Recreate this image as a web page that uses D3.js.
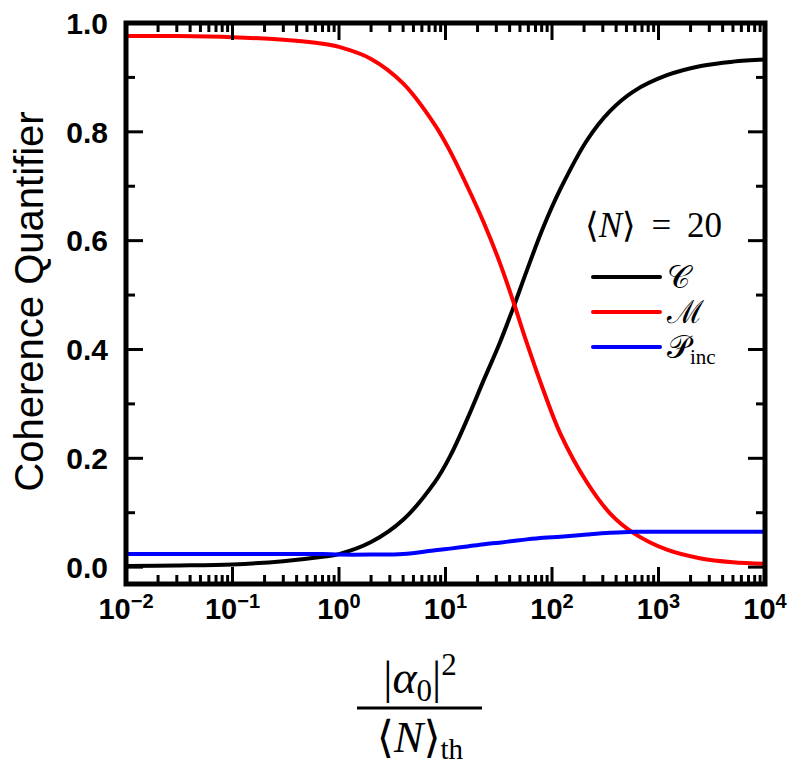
<!DOCTYPE html>
<html>
<head>
<meta charset="utf-8">
<script src="https://cdn.jsdelivr.net/npm/d3@7"></script>
<style>
  body { margin: 0; background: #fff; }
  svg { display: block; }
</style>
</head>
<body>
<div id="chart"></div>
<script>
// |alpha0|^2 / <N>_th  (x values)
const ratio = [0.01, 0.03, 0.1, 0.3, 0.7, 1, 2, 4, 8, 11, 16, 23, 32, 43, 58, 83, 120, 214, 350, 580, 1200, 2500, 5000, 10000];
const coherence = [0.002, 0.003, 0.005, 0.011, 0.019, 0.024, 0.046, 0.087, 0.157, 0.203, 0.272, 0.345, 0.410, 0.475, 0.545, 0.625, 0.695, 0.785, 0.838, 0.874, 0.904, 0.921, 0.929, 0.933];
const mixedness = [0.976, 0.976, 0.974, 0.969, 0.962, 0.956, 0.934, 0.889, 0.812, 0.765, 0.700, 0.632, 0.562, 0.490, 0.412, 0.325, 0.245, 0.155, 0.099, 0.063, 0.032, 0.016, 0.009, 0.006];
const pInc = [0.024, 0.024, 0.024, 0.024, 0.024, 0.023, 0.023, 0.024, 0.031, 0.034, 0.038, 0.042, 0.045, 0.048, 0.051, 0.054, 0.056, 0.060, 0.063, 0.065, 0.065, 0.065, 0.065, 0.065];

const xExponents = [-2, -1, 0, 1, 2, 3, 4];
const yTickValues = [0, 0.2, 0.4, 0.6, 0.8, 1.0];
const yMinorValues = [0.1, 0.3, 0.5, 0.7, 0.9];

const series = [
  { key: "C", values: coherence, color: "#000000" },
  { key: "M", values: mixedness, color: "#ff0000" },
  { key: "P", values: pInc, color: "#0000ff" },
];

const width = 793, height = 768;
const margin = { top: 23, right: 28, bottom: 184, left: 126 };
const innerW = width - margin.left - margin.right;
const innerH = height - margin.top - margin.bottom;

const svg = d3.select("#chart").append("svg")
  .attr("width", width)
  .attr("height", height);

const g = svg.append("g")
  .attr("transform", `translate(${margin.left},${margin.top})`);

const x = d3.scaleLog().domain([1e-2, 1e4]).range([0, innerW]);
const y = d3.scaleLinear().domain([-0.031, 1.0]).range([innerH, 0]);

const sansBold = "'Liberation Sans', Arial, Helvetica, sans-serif";
const serif = "'Liberation Serif', 'DejaVu Serif', 'Times New Roman', serif";

// curves
const line = d3.line()
  .x((d) => x(d[0]))
  .y((d) => y(d[1]))
  .curve(d3.curveCatmullRom.alpha(0.5));

g.append("g").attr("class", "curves")
  .selectAll("path")
  .data(series)
  .join("path")
  .attr("fill", "none")
  .attr("stroke", (d) => d.color)
  .attr("stroke-width", 4)
  .attr("stroke-linejoin", "round")
  .attr("d", (d) => line(ratio.map((r, i) => [r, d.values[i]])));

// minor x ticks 2..9 per decade
const xMinor = [];
xExponents.slice(0, -1).forEach((e) => {
  for (let k = 2; k <= 9; k++) xMinor.push(k * Math.pow(10, e));
});

const ticks = g.append("g").attr("class", "ticks")
  .attr("stroke", "#000").attr("stroke-width", 3);

const majorLen = 17, minorLen = 9;

xExponents.forEach((e) => {
  const px = x(Math.pow(10, e));
  ticks.append("line").attr("x1", px).attr("x2", px).attr("y1", innerH).attr("y2", innerH - majorLen);
  ticks.append("line").attr("x1", px).attr("x2", px).attr("y1", 0).attr("y2", majorLen);
});
xMinor.forEach((v) => {
  const px = x(v);
  ticks.append("line").attr("x1", px).attr("x2", px).attr("y1", innerH).attr("y2", innerH - minorLen);
  ticks.append("line").attr("x1", px).attr("x2", px).attr("y1", 0).attr("y2", minorLen);
});
yTickValues.forEach((v) => {
  const py = y(v);
  ticks.append("line").attr("x1", 0).attr("x2", majorLen).attr("y1", py).attr("y2", py);
  ticks.append("line").attr("x1", innerW).attr("x2", innerW - majorLen).attr("y1", py).attr("y2", py);
});
yMinorValues.forEach((v) => {
  const py = y(v);
  ticks.append("line").attr("x1", 0).attr("x2", minorLen).attr("y1", py).attr("y2", py);
  ticks.append("line").attr("x1", innerW).attr("x2", innerW - minorLen).attr("y1", py).attr("y2", py);
});

// frame
g.append("rect")
  .attr("width", innerW).attr("height", innerH)
  .attr("fill", "none").attr("stroke", "#000").attr("stroke-width", 5);

// y tick labels
g.append("g").selectAll("text")
  .data(yTickValues)
  .join("text")
  .attr("x", -18)
  .attr("y", (d) => y(d))
  .attr("dy", "0.36em")
  .attr("text-anchor", "end")
  .style("font-family", sansBold)
  .style("font-weight", "bold")
  .style("font-size", "30px")
  .text((d) => d.toFixed(1));

// x tick labels: 10^e
const xLab = g.append("g").selectAll("text")
  .data(xExponents)
  .join("text")
  .attr("x", (d) => x(Math.pow(10, d)))
  .attr("y", innerH + 35)
  .attr("text-anchor", "middle")
  .style("font-family", sansBold)
  .style("font-weight", "bold")
  .style("font-size", "29px");
xLab.append("tspan").text("10");
xLab.append("tspan")
  .attr("dy", -11)
  .style("font-size", "20px")
  .text((d) => (d < 0 ? "\u2212" + Math.abs(d) : String(d)));

// y axis title
svg.append("text")
  .attr("transform", `translate(43,${margin.top + innerH / 2 - 2}) rotate(-90)`)
  .attr("text-anchor", "middle")
  .style("font-family", "'Liberation Sans', Arial, sans-serif")
  .style("font-size", "40px")
  .text("Coherence Quantifier");

// x axis title: fraction |alpha0|^2 / <N>_th
const fx = 420;
const num = svg.append("text")
  .attr("x", fx).attr("y", 693)
  .attr("text-anchor", "middle")
  .style("font-family", serif)
  .style("font-size", "46px");
num.append("tspan").text("|");
num.append("tspan").style("font-style", "italic").text("\u03b1");
num.append("tspan").attr("dy", 8).style("font-size", "31px").text("0");
num.append("tspan").attr("dy", -8).text("|");
num.append("tspan").attr("dy", -18).style("font-size", "31px").text("2");

svg.append("line")
  .attr("x1", 357).attr("x2", 482)
  .attr("y1", 708).attr("y2", 708)
  .attr("stroke", "#000").attr("stroke-width", 3);

const den = svg.append("text")
  .attr("x", fx).attr("y", 752)
  .attr("text-anchor", "middle")
  .style("font-family", serif)
  .style("font-size", "44px");
den.append("tspan").text("\u27e8");
den.append("tspan").style("font-style", "italic").text("N");
den.append("tspan").text("\u27e9");
den.append("tspan").attr("dy", 7).style("font-size", "29px").text("th");

// legend
const leg = g.append("g").attr("transform", `translate(${593 - margin.left},0)`);
const lt = leg.append("text")
  .attr("x", -8).attr("y", 237 - margin.top)
  .style("font-family", serif)
  .style("font-size", "35px");
lt.append("tspan").text("\u27e8");
lt.append("tspan").style("font-style", "italic").text("N");
lt.append("tspan").text("\u27e9 \u2009=\u2009 20");

const legendLabels = { C: "\ud835\udc9e", M: "\u2133", P: "\ud835\udcab" };
const rows = leg.selectAll("g.row")
  .data(series)
  .join("g")
  .attr("class", "row")
  .attr("transform", (d, i) => `translate(0,${277 + i * 35 - margin.top})`);
rows.append("line")
  .attr("x1", 0).attr("x2", 67)
  .attr("stroke", (d) => d.color)
  .attr("stroke-width", 4)
  .attr("stroke-linecap", "round");
const rowText = rows.append("text")
  .attr("x", 74).attr("y", 11)
  .style("font-family", serif)
  .style("font-size", "32px");
rowText.append("tspan").text((d) => legendLabels[d.key]);
rowText.filter((d) => d.key === "P")
  .append("tspan").attr("dy", 6).style("font-size", "21px").text("inc");
</script>
</body>
</html>
